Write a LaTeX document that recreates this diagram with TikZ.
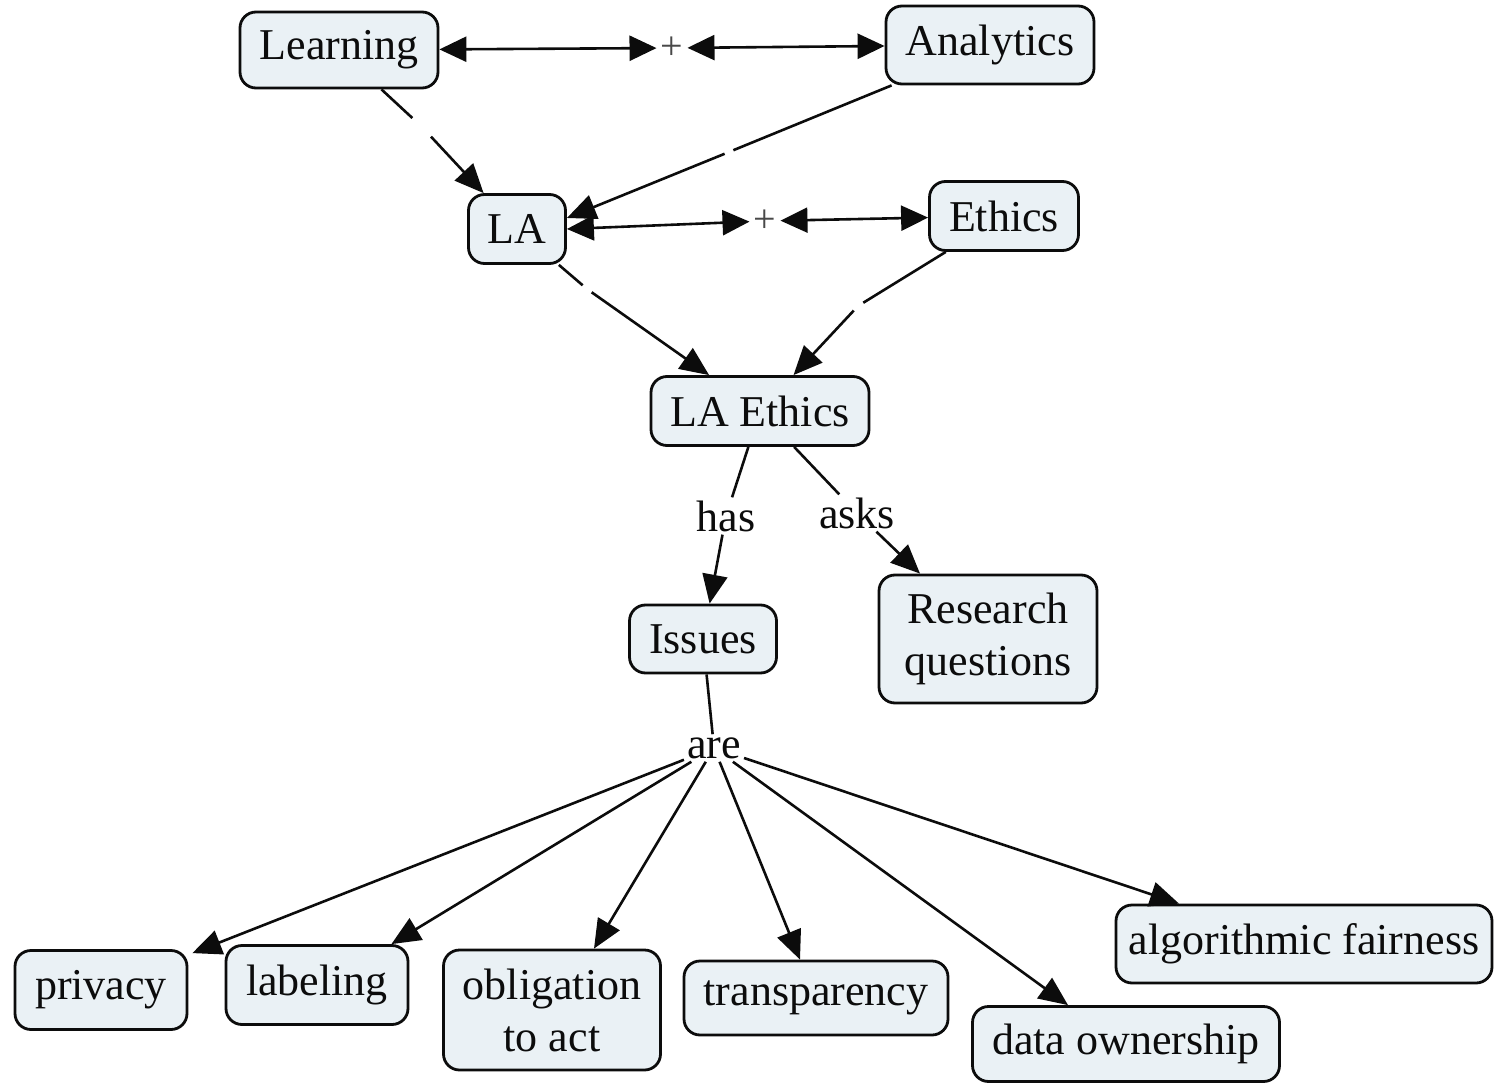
\documentclass[tikz,border=0pt]{standalone}
\usepackage{fontspec}
\setmainfont{Liberation Serif}
\usetikzlibrary{arrows.meta}
\definecolor{boxfill}{RGB}{234,241,245}
\definecolor{ink}{RGB}{12,12,12}
\begin{document}
\begin{tikzpicture}[x=1pt,y=-1pt,
  concept/.style={draw=ink, line width=2.8pt, fill=boxfill, rounded corners=16pt,
    font=\fontsize{44}{52}\selectfont, align=center, inner sep=0pt, text=ink},
  phrase/.style={font=\fontsize{44}{52}\selectfont, inner sep=3pt, text=ink},
  joiner/.style={font=\fontsize{40}{48}\selectfont, inner sep=4pt, text=ink!75},
  gapnode/.style={circle, inner sep=0pt, minimum size=#1},
  link/.style={draw=ink, line width=2.6pt},
  arr/.style={link, -{Triangle[length=29pt,width=25pt]}},
  biarr/.style={link, {Triangle[length=27pt,width=25pt]}-{Triangle[length=27pt,width=25pt]}}
]
\useasboundingbox (0,0) rectangle (1494,1083);

% concepts
\node[concept, minimum width=198pt, minimum height=76pt] (learning) at (339,50) {Learning};
\node[concept, minimum width=208pt, minimum height=78pt] (analytics) at (990,45) {Analytics};
\node[concept, minimum width=97pt, minimum height=69pt] (la) at (517,229) {LA};
\node[concept, minimum width=149pt, minimum height=69pt] (ethics) at (1004,216) {Ethics};
\node[concept, minimum width=218pt, minimum height=69pt] (laethics) at (760,411) {LA Ethics};
\node[concept, minimum width=147pt, minimum height=68pt] (issues) at (703,639) {Issues};
\node[concept, minimum width=218pt, minimum height=128pt] (research) at (988,639) {Research\\questions};
\node[concept, minimum width=172pt, minimum height=79pt] (privacy) at (101,990) {privacy};
\node[concept, minimum width=182pt, minimum height=79pt] (labeling) at (317,985) {labeling};
\node[concept, minimum width=217pt, minimum height=120pt] (obligation) at (552,1010) {obligation\\to act};
\node[concept, minimum width=264pt, minimum height=74pt] (transparency) at (816,998) {transparency};
\node[concept, minimum width=307pt, minimum height=75pt] (ownership) at (1126,1044) {data ownership};
\node[concept, minimum width=376pt, minimum height=78pt] (fairness) at (1304,944) {algorithmic fairness};

% linking phrases
\node[joiner] (plusA) at (672,48) {+};
\node[joiner] (plusB) at (765,221) {+};
\node[phrase] (has) at (726,516) {has};
\node[phrase] (asks) at (857,513) {asks};
\node[phrase] (are) at (714,748) {are};

% unlabelled junctions on the links
\node[gapnode=26pt] (jLearn) at (422,127) {};
\node[gapnode=9pt] (jAnal) at (729,152) {};
\node[gapnode=11pt] (jLA) at (587,289) {};
\node[gapnode=12pt] (jEth) at (858,306) {};

% combining links
\draw[biarr] (learning) -- (plusA);
\draw[biarr] (plusA) -- (analytics);
\draw[biarr] (la.east) -- (plusB);
\draw[biarr] (plusB) -- (ethics);

% derivation links
\draw[link] (learning) -- (jLearn);
\draw[arr] (jLearn) -- (la);
\draw[link] (analytics) -- (jAnal);
\draw[arr] (jAnal) -- ([yshift=11pt]la.east);
\draw[link] (la) -- (jLA);
\draw[arr] (jLA) -- (laethics);
\draw[link] (ethics) -- (jEth);
\draw[arr] (jEth) -- (laethics);

% LA Ethics branches
\draw[link] (laethics) -- (has);
\draw[arr] (has) -- (issues);
\draw[link] (laethics) -- (asks);
\draw[arr] (asks) -- (research);

% issues
\draw[link] (issues) -- (are);
\draw[arr] (are) -- ([xshift=4pt,yshift=-4pt]privacy.north east);
\draw[arr] (are) -- ([xshift=-18pt]labeling.north east);
\draw[arr] (are) -- ([xshift=42pt]obligation.north);
\draw[arr] (are) -- ([xshift=-16pt]transparency.north);
\draw[arr] (are) -- ([xshift=-58pt]ownership.north);
\draw[arr] (are) -- ([xshift=-125pt]fairness.north);
\end{tikzpicture}
\end{document}
